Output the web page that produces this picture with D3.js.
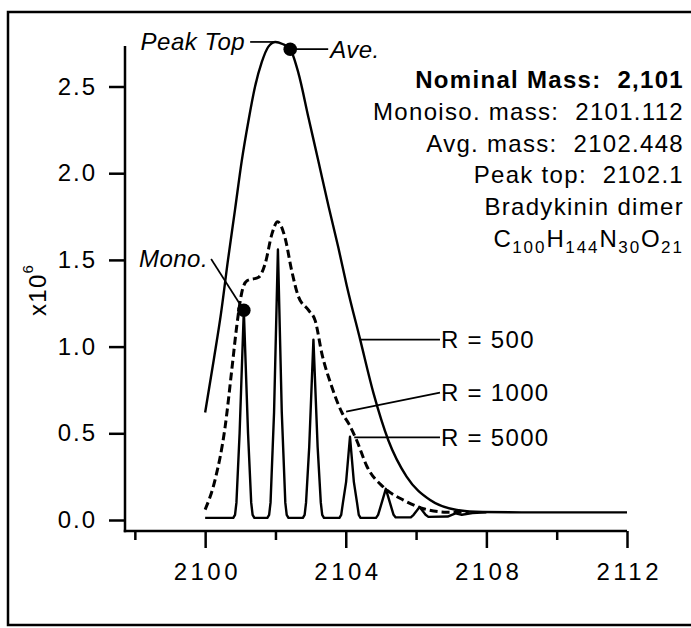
<!DOCTYPE html>
<html>
<head>
<meta charset="utf-8">
<script src="https://cdn.jsdelivr.net/npm/d3@7/dist/d3.min.js"></script>
<style>
  body { margin: 0; background: #fff; }
  svg { display: block; font-family: "Liberation Sans", Arial, Helvetica, sans-serif; }
  .axis path.domain { display: none; }
  .axis line, .axisline { stroke: #000; stroke-width: 2.5; }
  .axis text { font-size: 24px; fill: #000; font-family: "Liberation Sans", Arial, sans-serif; }
  .trace { fill: none; stroke: #000; stroke-width: 2.4; stroke-linejoin: round; }
  .trace.dashed { stroke-dasharray: 8 4; stroke-width: 3; }
  .leader { stroke: #000; stroke-width: 1.7; }
  .label { font-size: 24px; letter-spacing: 1.3px; white-space: pre; }
  .note { font-size: 24px; font-style: italic; letter-spacing: 0.5px; }
</style>
</head>
<body>
<svg id="chart" width="691" height="628"></svg>
<script>

// Axis ticks
var xTicks = [2100, 2104, 2108, 2112];
var xMinorTicks = [2098, 2102, 2106, 2110];
var yTicks = [0, 0.5, 1.0, 1.5, 2.0, 2.5];

// Profiles, [mass, intensity x10^6]
var res500 = [
  [2100.00, 0.62], [2100.25, 0.93], [2100.45, 1.19], [2100.65, 1.50], [2100.85, 1.79],
  [2101.04, 2.07], [2101.23, 2.30], [2101.42, 2.50], [2101.61, 2.64], [2101.80, 2.73],
  [2102.00, 2.757], [2102.20, 2.745], [2102.42, 2.715], [2102.65, 2.58], [2102.94, 2.32],
  [2103.22, 2.07], [2103.51, 1.81], [2103.79, 1.57], [2104.03, 1.35], [2104.41, 1.04],
  [2104.79, 0.73], [2105.21, 0.46], [2105.73, 0.25], [2106.40, 0.115], [2107.16, 0.058],
  [2107.90, 0.046], [2109.00, 0.044], [2112.00, 0.044]
];

var res1000 = [
  [2100.00, 0.06], [2100.28, 0.23], [2100.57, 0.54], [2100.76, 0.87], [2100.90, 1.12],
  [2101.04, 1.31], [2101.19, 1.38], [2101.52, 1.40], [2101.71, 1.48], [2101.90, 1.65],
  [2102.06, 1.72], [2102.27, 1.63], [2102.46, 1.44], [2102.65, 1.29], [2102.94, 1.21],
  [2103.13, 1.15], [2103.32, 0.96], [2103.60, 0.77], [2103.89, 0.62], [2104.10, 0.55],
  [2104.31, 0.46], [2104.60, 0.31], [2105.07, 0.19], [2105.64, 0.115], [2106.21, 0.065],
  [2106.87, 0.045], [2107.50, 0.044]
];

var res5000 = [
  [2100.00, 0.012],
  [2100.80, 0.012], [2100.85, 0.03], [2100.89, 0.10], [2100.98, 0.50], [2101.10, 1.21],
  [2101.22, 0.50], [2101.31, 0.10], [2101.35, 0.03], [2101.40, 0.012],
  [2101.77, 0.012], [2101.82, 0.03], [2101.86, 0.10], [2101.96, 0.62], [2102.07, 1.56],
  [2102.18, 0.62], [2102.28, 0.10], [2102.32, 0.03], [2102.37, 0.012],
  [2102.78, 0.012], [2102.83, 0.03], [2102.87, 0.10], [2102.96, 0.42], [2103.08, 1.04],
  [2103.20, 0.42], [2103.29, 0.10], [2103.33, 0.03], [2103.38, 0.012],
  [2103.82, 0.012], [2103.87, 0.03], [2103.92, 0.10], [2104.01, 0.22], [2104.12, 0.48],
  [2104.23, 0.22], [2104.32, 0.10], [2104.37, 0.03], [2104.42, 0.012],
  [2104.86, 0.012], [2104.92, 0.03], [2104.98, 0.07], [2105.14, 0.18], [2105.30, 0.07],
  [2105.36, 0.03], [2105.42, 0.015],
  [2105.85, 0.015], [2105.93, 0.03], [2106.10, 0.075], [2106.27, 0.03], [2106.35, 0.018],
  [2106.90, 0.02], [2107.12, 0.038], [2107.30, 0.03], [2107.60, 0.04], [2108.00, 0.044]
];

// Marked points and leader labels, in data units
var markers = [
  {name: 'Mono.', x: 2101.10, y: 1.21, lx: 2100.17, ly: 1.505},
  {name: 'Ave.', x: 2102.42, y: 2.715, lx: 2103.50, ly: 2.715}
];
var peakTop = {name: 'Peak Top', x: 2102.00, y: 2.757, lx: 2101.28};

var resLabels = [
  {text: 'R = 500', x: 2104.41, y: 1.04, lx: 2106.68, ly: 1.04},
  {text: 'R = 1000', x: 2104.01, y: 0.625, lx: 2106.68, ly: 0.735},
  {text: 'R = 5000', x: 2104.24, y: 0.477, lx: 2106.68, ly: 0.477}
];

var infoLines = ['Nominal Mass:  2,101', 'Monoiso. mass:  2101.112', 'Avg. mass:  2102.448',
                 'Peak top:  2102.1', 'Bradykinin dimer'];
var formula = [['C', '100'], ['H', '144'], ['N', '30'], ['O', '21']];

var vars = {
  width: 691,
  height: 628,
  xRange: [125, 627],
  yRange: [520, 86.5],
  axisY: 531,
  axisTop: 46,
  infoRight: 684,
  infoTop: 88,
  infoStep: 31.8
};

var svg = d3.select('#chart');

var x = d3.scaleLinear().domain([2097.72, 2112]).range(vars.xRange);
var y = d3.scaleLinear().domain([0, 2.5]).range(vars.yRange);

// frame
svg.append('rect')
    .attr('x', 8).attr('y', 12)
    .attr('width', 720).attr('height', 613)
    .attr('fill', 'none').attr('stroke', '#000').attr('stroke-width', 2.5);

// axes
svg.append('g')
    .attr('class', 'axis')
    .attr('transform', 'translate(0,' + vars.axisY + ')')
    .call(d3.axisBottom(x).tickValues(xMinorTicks).tickSize(9).tickFormat(''));

svg.append('g')
    .attr('class', 'axis')
    .attr('transform', 'translate(0,' + vars.axisY + ')')
    .call(d3.axisBottom(x).tickValues(xTicks).tickSize(17).tickPadding(15).tickFormat(d3.format('d')))
  .selectAll('text')
    .attr('letter-spacing', '3.5px')
    .attr('dx', '1.7px');

svg.append('g')
    .attr('class', 'axis')
    .attr('transform', 'translate(' + vars.xRange[0] + ',0)')
    .call(d3.axisLeft(y).tickValues(yTicks).tickSize(16).tickPadding(12).tickFormat(d3.format('.1f')))
  .selectAll('text')
    .attr('letter-spacing', '2px');

svg.append('line').attr('class', 'axisline')
    .attr('x1', vars.xRange[0]).attr('x2', vars.xRange[0])
    .attr('y1', vars.axisTop).attr('y2', vars.axisY + 1.25);
svg.append('line').attr('class', 'axisline')
    .attr('x1', vars.xRange[0] - 1.25).attr('x2', vars.xRange[1])
    .attr('y1', vars.axisY).attr('y2', vars.axisY);

// y label x10^6
var yLab = svg.append('text')
    .attr('class', 'label')
    .attr('transform', 'translate(46,316) rotate(-90)')
    .attr('letter-spacing', '2px');
yLab.append('tspan').text('x10');
yLab.append('tspan').attr('font-size', '15px').attr('dy', -13).text('6');

// traces
var line = d3.line()
    .x(function(d) { return x(d[0]); })
    .y(function(d) { return y(d[1]); });

svg.append('path').datum(res500).attr('class', 'trace')
    .attr('d', line.curve(d3.curveMonotoneX));
svg.append('path').datum(res1000).attr('class', 'trace dashed')
    .attr('d', line.curve(d3.curveMonotoneX));
svg.append('path').datum(res5000).attr('class', 'trace')
    .attr('d', line.curve(d3.curveLinear));

// peak top leader
svg.append('line').attr('class', 'leader')
    .attr('x1', x(peakTop.lx)).attr('x2', x(peakTop.x))
    .attr('y1', y(peakTop.y)).attr('y2', y(peakTop.y));
svg.append('text').attr('class', 'note')
    .attr('x', x(peakTop.lx) - 5).attr('y', y(peakTop.y))
    .attr('dy', '0.35em').attr('text-anchor', 'end')
    .text(peakTop.name);

// markers
svg.selectAll('.mleader').data(markers)
  .enter()
    .append('line')
    .attr('class', 'leader mleader')
    .attr('x1', function(d) { return x(d.lx); })
    .attr('y1', function(d) { return y(d.ly); })
    .attr('x2', function(d) { return x(d.x); })
    .attr('y2', function(d) { return y(d.y); });

svg.selectAll('.dot').data(markers)
  .enter()
    .append('circle')
    .attr('class', 'dot')
    .attr('r', 6.8)
    .attr('cx', function(d) { return x(d.x); })
    .attr('cy', function(d) { return y(d.y); });

svg.selectAll('.mname').data(markers)
  .enter()
    .append('text')
    .attr('class', 'note mname')
    .attr('x', function(d) { return d.lx > d.x ? x(d.lx) + 2 : x(d.lx) - 3; })
    .attr('y', function(d) { return y(d.ly); })
    .attr('dy', '0.35em')
    .attr('text-anchor', function(d) { return d.lx > d.x ? 'start' : 'end'; })
    .text(function(d) { return d.name; });

// resolution labels
svg.selectAll('.rleader').data(resLabels)
  .enter()
    .append('line')
    .attr('class', 'leader rleader')
    .attr('x1', function(d) { return x(d.x); })
    .attr('y1', function(d) { return y(d.y); })
    .attr('x2', function(d) { return x(d.lx); })
    .attr('y2', function(d) { return y(d.ly); });

svg.selectAll('.rname').data(resLabels)
  .enter()
    .append('text')
    .attr('class', 'label rname')
    .attr('x', function(d) { return x(d.lx) + 1; })
    .attr('y', function(d) { return y(d.ly); })
    .attr('dy', '0.35em')
    .text(function(d) { return d.text; });

// info block
svg.selectAll('.info').data(infoLines)
  .enter()
    .append('text')
    .attr('class', 'label info')
    .attr('x', vars.infoRight)
    .attr('y', function(d, i) { return vars.infoTop + i * vars.infoStep; })
    .attr('text-anchor', 'end')
    .attr('font-weight', function(d, i) { return i === 0 ? 'bold' : null; })
    .text(function(d) { return d; });

var f = svg.append('text')
    .attr('class', 'label')
    .attr('x', vars.infoRight)
    .attr('y', vars.infoTop + infoLines.length * vars.infoStep)
    .attr('text-anchor', 'end');
formula.forEach(function(p, i) {
  f.append('tspan').attr('dy', i ? -6 : 0).text(p[0]);
  f.append('tspan').attr('dy', 6).attr('font-size', '17px').attr('letter-spacing', '2px').text(p[1]);
});

</script>
</body>
</html>
